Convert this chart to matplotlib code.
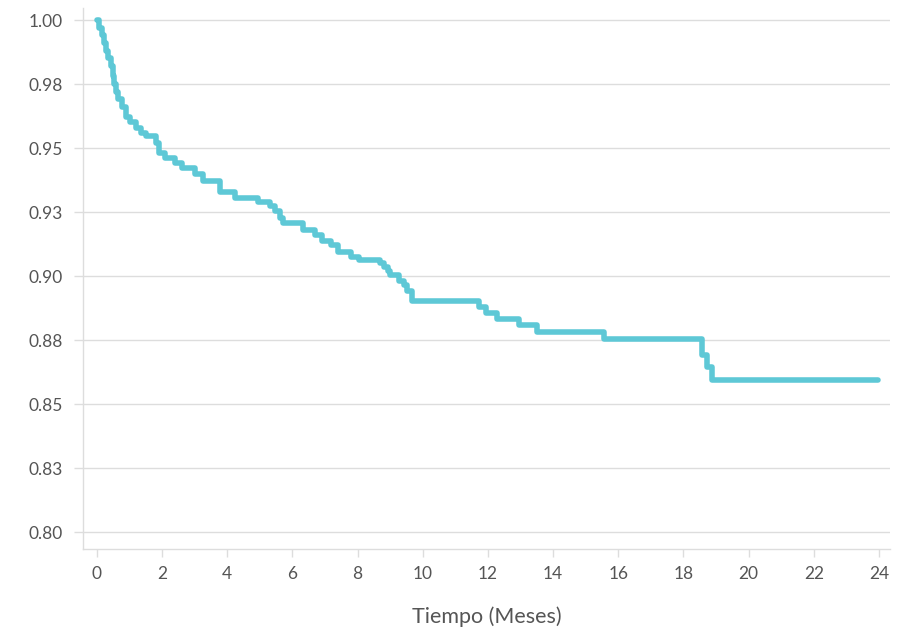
import matplotlib
matplotlib.use("Agg")
import matplotlib.pyplot as plt

# Kaplan-Meier style step data (time in months, survival)
times = [0, 0.05, 0.14, 0.20, 0.27, 0.34, 0.42, 0.48, 0.53, 0.57, 0.65, 0.78, 0.90,
         1.02, 1.20, 1.35, 1.50, 1.80, 1.90, 2.10, 2.40, 2.62, 3.02, 3.25, 3.78,
         4.25, 4.95, 5.30, 5.45, 5.62, 5.72, 6.32, 6.68, 6.92, 7.18, 7.41, 7.80,
         8.05, 8.70, 8.82, 8.92, 8.98, 9.28, 9.42, 9.50, 9.68, 11.74, 11.95, 12.28,
         12.96, 13.52, 15.57, 18.58, 18.72, 18.87, 23.98]
survival = [1.000, 0.997, 0.994, 0.991, 0.988, 0.985, 0.982, 0.978, 0.975, 0.972,
            0.969, 0.966, 0.962, 0.960, 0.958, 0.956, 0.9545, 0.952, 0.948, 0.946,
            0.944, 0.942, 0.940, 0.937, 0.933, 0.9305, 0.9290, 0.9272, 0.9255,
            0.9228, 0.9208, 0.9178, 0.9160, 0.9135, 0.9122, 0.9095, 0.9076, 0.9062,
            0.9050, 0.9036, 0.9018, 0.9003, 0.8980, 0.8965, 0.8940, 0.8902, 0.8880,
            0.8855, 0.8832, 0.8810, 0.8780, 0.8752, 0.8692, 0.8646, 0.8594, 0.8594]

x_ticks = list(range(0, 25, 2))
y_ticks = [0.800, 0.825, 0.850, 0.875, 0.900, 0.925, 0.950, 0.975, 1.000]
y_tick_labels = ["0.80", "0.83", "0.85", "0.88", "0.90", "0.93", "0.95", "0.98", "1.00"]
x_label = "Tiempo (Meses)"

plt.rcParams['font.family'] = ['Lato', 'DejaVu Sans']

fig = plt.figure(figsize=(9.05, 6.33), dpi=100)
ax = fig.add_axes([0.0917, 0.1327, 0.8917, 0.8547])

line_color = '#5EC8D6'
grid_color = '#DDDDDD'
text_color = '#555555'

ax.plot(times, survival, drawstyle='steps-post', color=line_color, lw=4.0,
        solid_capstyle='round', solid_joinstyle='round', zorder=3)

ax.set_xlim(-0.43, 24.34)
ax.set_ylim(0.79336, 1.0047)
ax.set_xticks(x_ticks)
ax.set_xticklabels([str(v) for v in x_ticks])
ax.set_yticks(y_ticks)
ax.set_yticklabels(y_tick_labels)

ax.grid(axis='y', color=grid_color, lw=1)
ax.set_axisbelow(True)
for s in ['top', 'right']:
    ax.spines[s].set_visible(False)
for s in ['left', 'bottom']:
    ax.spines[s].set_color(grid_color)
    ax.spines[s].set_linewidth(1)

ax.tick_params(axis='x', length=6, width=1, color=grid_color, pad=6,
               labelsize=12.5, labelcolor=text_color)
ax.tick_params(axis='y', length=6.5, width=1, color=grid_color, pad=8,
               labelsize=12.5, labelcolor=text_color)

ax.set_xlabel(x_label, fontsize=15.5, color=text_color, labelpad=18)

fig.savefig('out.png', dpi=100)
